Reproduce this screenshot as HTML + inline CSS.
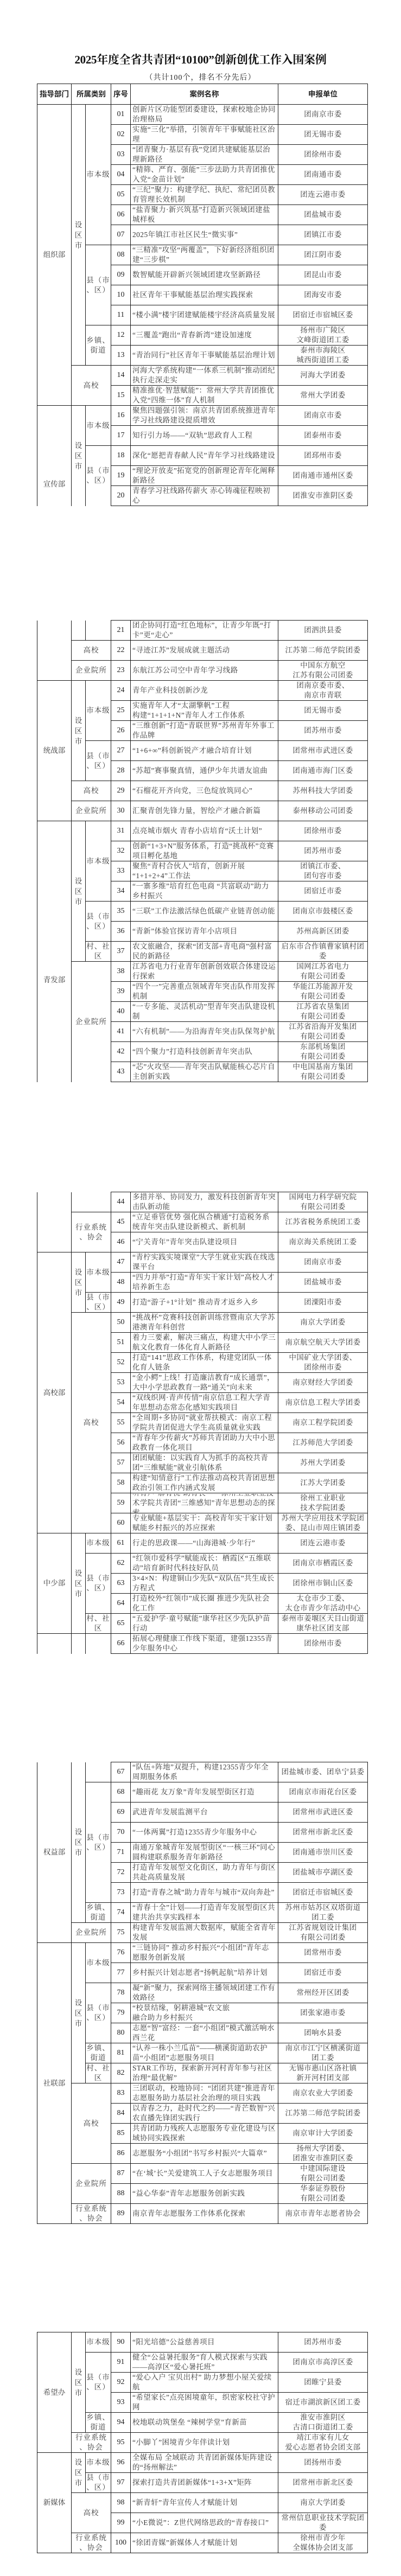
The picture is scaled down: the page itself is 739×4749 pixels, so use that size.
<!DOCTYPE html>
<html><head><meta charset="utf-8">
<style>
html,body{margin:0;padding:0;background:#fff}
body{width:739px;height:4749px;position:relative;overflow:hidden;font-family:"Liberation Serif","Noto Serif CJK SC",serif;color:#3a3a3a}
.title{position:absolute;top:94px;left:0;width:739px;text-align:center;font-size:21px;font-weight:bold;color:#111;font-family:"Liberation Serif","Noto Serif CJK SC",serif;letter-spacing:-0.3px}
.sub{position:absolute;top:132px;left:0;width:739px;text-align:center;font-size:14px;letter-spacing:1px;color:#222}
table{position:absolute;left:68px;width:609px;border-collapse:collapse;table-layout:fixed}
td{border:1.5px solid #1a1a1a;padding:0;font-size:13.5px;text-align:center;vertical-align:middle;line-height:18px;overflow:hidden}
tr{height:37px}
tr.h{height:38px}
tr.h td{font-family:"Liberation Sans","Noto Sans CJK SC",sans-serif;font-weight:bold;color:#222;font-size:13.5px}
td.x{font-size:14px;color:#222}
td.n div{height:35px;overflow:hidden;display:flex;align-items:center;text-align:left;padding:0 3px;letter-spacing:0.4px}
td.u div{height:35px;overflow:hidden;display:flex;align-items:center;justify-content:center;text-align:center;padding:0 2px;letter-spacing:0.4px}
td.v{line-height:19px}
td.s{letter-spacing:1px}
.ot{border-top:none}
.ob{border-bottom:none}
</style></head><body>
<div class="title">2025年度全省共青团“10100”创新创优工作入围案例</div>
<div class="sub">（共计100个，排名不分先后）</div>

<!-- PAGE 1 -->
<table style="top:154px">
<colgroup><col style="width:63px"><col style="width:26px"><col style="width:47px"><col style="width:36px"><col style="width:272px"><col style="width:165px"></colgroup>
<tr class="h"><td>指导部门</td><td colspan="2">所属类别</td><td>序号</td><td>案例名称</td><td>申报单位</td></tr>
<tr><td rowspan="15">组织部</td><td rowspan="13" class="v">设<br>区<br>市</td><td rowspan="7" class="s">市本级</td><td class="x">01</td><td class="n"><div>创新片区功能型团委建设，探索校地企协同治理格局</div></td><td class="u"><div>团南京市委</div></td></tr>
<tr><td class="x">02</td><td class="n"><div>实施“三化”举措，引领青年干事赋能社区治理</div></td><td class="u"><div>团无锡市委</div></td></tr>
<tr><td class="x">03</td><td class="n"><div>“团青聚力·基层有我”党团共建赋能基层治理新路径</div></td><td class="u"><div>团徐州市委</div></td></tr>
<tr><td class="x">04</td><td class="n"><div>“精筛、严育、强能”三步法助力共青团推优入党“金苗计划”</div></td><td class="u"><div>团南通市委</div></td></tr>
<tr><td class="x">05</td><td class="n"><div>“三纪”聚力：构建学纪、执纪、常纪团员教育管理长效机制</div></td><td class="u"><div>团连云港市委</div></td></tr>
<tr><td class="x">06</td><td class="n"><div>“盐青聚力·新兴筑基”打造新兴领域团建盐城样板</div></td><td class="u"><div>团盐城市委</div></td></tr>
<tr><td class="x">07</td><td class="n"><div>2025年镇江市社区民生“微实事”</div></td><td class="u"><div>团镇江市委</div></td></tr>
<tr><td rowspan="4" class="s">县（市<br>、区）</td><td class="x">08</td><td class="n"><div>“三精准”攻坚“两覆盖”，下好新经济组织团建“三步棋”</div></td><td class="u"><div>团江阴市委</div></td></tr>
<tr><td class="x">09</td><td class="n"><div>数智赋能开辟新兴领域团建攻坚新路径</div></td><td class="u"><div>团昆山市委</div></td></tr>
<tr><td class="x">10</td><td class="n"><div>社区青年干事赋能基层治理实践探索</div></td><td class="u"><div>团海安市委</div></td></tr>
<tr><td class="x">11</td><td class="n"><div>“楼小满”楼宇团建赋能楼宇经济高质量发展</div></td><td class="u"><div>团宿迁市宿城区委</div></td></tr>
<tr><td rowspan="2" class="s">乡镇、<br>街道</td><td class="x">12</td><td class="n"><div>“三覆盖”跑出“青春新湾”建设加速度</div></td><td class="u"><div>扬州市广陵区<br>文峰街道团工委</div></td></tr>
<tr><td class="x">13</td><td class="n"><div>“青治同行”社区青年干事赋能基层治理计划</div></td><td class="u"><div>泰州市海陵区<br>城西街道团工委</div></td></tr>
<tr><td rowspan="2" colspan="2" class="s">高校</td><td class="x">14</td><td class="n"><div>河海大学系统构建“一体系三机制”推动团纪执行走深走实</div></td><td class="u"><div>河海大学团委</div></td></tr>
<tr><td class="x">15</td><td class="n"><div>精准推优·智慧赋能”：常州大学共青团推优入党“四维一体”育人机制</div></td><td class="u"><div>常州大学团委</div></td></tr>
<tr><td rowspan="5" class="ob" style="vertical-align:top;padding-top:136px">宣传部</td><td rowspan="5" class="v ob">设<br>区<br>市</td><td rowspan="2" class="s">市本级</td><td class="x">16</td><td class="n"><div>聚焦四题强引领：南京共青团系统推进青年学习社线路建设提质增效</div></td><td class="u"><div>团南京市委</div></td></tr>
<tr><td class="x">17</td><td class="n"><div>知行引力场——“双轨”思政育人工程</div></td><td class="u"><div>团泰州市委</div></td></tr>
<tr><td rowspan="3" class="s ob">县（市<br>、区）</td><td class="x">18</td><td class="n"><div>深化“愿把青春献人民”青年学习社线路建设</div></td><td class="u"><div>团邳州市委</div></td></tr>
<tr><td class="x">19</td><td class="n"><div>“理论开放麦”拓宽党的创新理论青年化阐释新路径</div></td><td class="u"><div>团南通市通州区委</div></td></tr>
<tr><td class="x">20</td><td class="n"><div>青春学习社线路传薪火 赤心铸魂征程映初心</div></td><td class="u"><div>团淮安市淮阴区委</div></td></tr>
</table>

<!-- PAGE 2 -->
<table style="top:1143px">
<colgroup><col style="width:63px"><col style="width:26px"><col style="width:47px"><col style="width:36px"><col style="width:272px"><col style="width:165px"></colgroup>
<tr><td rowspan="3" class="ot"></td><td class="ot"></td><td class="ot"></td><td class="x">21</td><td class="n"><div>团企协同打造“红色地标”，让青少年既“打卡”更“走心”</div></td><td class="u"><div>团泗洪县委</div></td></tr>
<tr><td colspan="2" class="s">高校</td><td class="x">22</td><td class="n"><div>“寻迹江苏”发展成就主题活动</div></td><td class="u"><div>江苏第二师范学院团委</div></td></tr>
<tr><td colspan="2" class="s">企业院所</td><td class="x">23</td><td class="n"><div>东航江苏公司空中青年学习线路</div></td><td class="u"><div>中国东方航空<br>江苏有限公司团委</div></td></tr>
<tr><td rowspan="7">统战部</td><td rowspan="5" class="v">设<br>区<br>市</td><td rowspan="3" class="s">市本级</td><td class="x">24</td><td class="n"><div>青年产业科技创新沙龙</div></td><td class="u"><div>团南京委市委、<br>南京市青联</div></td></tr>
<tr><td class="x">25</td><td class="n"><div>实施青年人才“太湖擎帆”工程<br>构建“1+1+1+N”青年人才工作体系</div></td><td class="u"><div>团无锡市委</div></td></tr>
<tr><td class="x">26</td><td class="n"><div>“三维创新”打造“青联世界”苏州青年外事工作品牌</div></td><td class="u"><div>团苏州市委</div></td></tr>
<tr><td rowspan="2" class="s">县（市<br>、区）</td><td class="x">27</td><td class="n"><div>“1+6+∞”科创新锐产才融合培育计划</div></td><td class="u"><div>团常州市武进区委</div></td></tr>
<tr><td class="x">28</td><td class="n"><div>“苏超”赛事聚真情，通伊少年共谱友谊曲</div></td><td class="u"><div>团南通市海门区委</div></td></tr>
<tr><td colspan="2" class="s">高校</td><td class="x">29</td><td class="n"><div>“石榴花开齐向党，三色绽放筑同心”</div></td><td class="u"><div>苏州科技大学团委</div></td></tr>
<tr><td colspan="2" class="s">企业院所</td><td class="x">30</td><td class="n"><div>汇聚青创先锋力量，智绘产才融合新篇</div></td><td class="u"><div>泰州移动公司团委</div></td></tr>
<tr><td rowspan="13" class="ob" style="vertical-align:top;padding-top:284px">青发部</td><td rowspan="7" class="v">设<br>区<br>市</td><td rowspan="4" class="s">市本级</td><td class="x">31</td><td class="n"><div>点亮城市烟火 青春小店培育“沃土计划”</div></td><td class="u"><div>团徐州市委</div></td></tr>
<tr><td class="x">32</td><td class="n"><div>创新“1+3+N”服务体系，打造“挑战杯”竞赛项目孵化基地</div></td><td class="u"><div>团苏州市委</div></td></tr>
<tr><td class="x">33</td><td class="n"><div>聚焦“青村合伙人”培育，创新开展<br>“1+1+2+4”工作法</div></td><td class="u"><div>团镇江市委、<br>团句容市委</div></td></tr>
<tr><td class="x">34</td><td class="n"><div>“一寨多维”培育红色电商 “共富联动”助力乡村振兴</div></td><td class="u"><div>团宿迁市委</div></td></tr>
<tr><td rowspan="2" class="s">县（市<br>、区）</td><td class="x">35</td><td class="n"><div>“三联”工作法激活绿色低碳产业链青创动能</div></td><td class="u"><div>团南京市鼓楼区委</div></td></tr>
<tr><td class="x">36</td><td class="n"><div>“青新”体验官探访青年小店项目</div></td><td class="u"><div>苏州高新区团委</div></td></tr>
<tr><td class="s">村、社<br>区</td><td class="x">37</td><td class="n"><div>农文旅融合，探索“团支部+青电商”强村富民的新路径</div></td><td class="u"><div>启东市合作镇曹家镇村团委</div></td></tr>
<tr><td rowspan="6" colspan="2" class="s ob">企业院所</td><td class="x">38</td><td class="n"><div>江苏省电力行业青年创新创效联合体建设运行探索</div></td><td class="u"><div>国网江苏省电力<br>有限公司团委</div></td></tr>
<tr><td class="x">39</td><td class="n"><div>“四个一”完善重点领域青年突击队作用发挥机制</div></td><td class="u"><div>华能江苏能源开发<br>有限公司团委</div></td></tr>
<tr><td class="x">40</td><td class="n"><div>“一专多能、灵活机动”型青年突击队建设机制</div></td><td class="u"><div>江苏省农垦集团<br>有限公司团委</div></td></tr>
<tr><td class="x">41</td><td class="n"><div>“六有机制”——为沿海青年突击队保驾护航</div></td><td class="u"><div>江苏省沿海开发集团<br>有限公司团委</div></td></tr>
<tr><td class="x">42</td><td class="n"><div>“四个聚力”打造科技创新青年突击队</div></td><td class="u"><div>东部机场集团<br>有限公司团委</div></td></tr>
<tr><td class="x">43</td><td class="n"><div>“芯”火攻坚——青年突击队赋能核心芯片自主创新实践</div></td><td class="u"><div>中电国基南方集团<br>有限公司团委</div></td></tr>
</table>

<!-- PAGE 3 -->
<table style="top:2197px">
<colgroup><col style="width:63px"><col style="width:26px"><col style="width:47px"><col style="width:36px"><col style="width:272px"><col style="width:165px"></colgroup>
<tr><td rowspan="3" class="ot"></td><td colspan="2" class="ot"></td><td class="x">44</td><td class="n"><div>多措并举、协同发力，激发科技创新青年突击队新动能</div></td><td class="u"><div>国网电力科学研究院<br>有限公司团委</div></td></tr>
<tr><td rowspan="2" colspan="2" class="s">行业系统<br>、协会</td><td class="x">45</td><td class="n"><div>“立足垂管优势 强化纵合横通”打造税务系统青年突击队建设新模式、新机制</div></td><td class="u"><div>江苏省税务系统团工委</div></td></tr>
<tr><td class="x">46</td><td class="n"><div>“宁关青年”青年突击队建设项目</div></td><td class="u"><div>南京海关系统团工委</div></td></tr>
<tr><td rowspan="14">高校部</td><td rowspan="3" class="v">设<br>区<br>市</td><td rowspan="2" class="s">市本级</td><td class="x">47</td><td class="n"><div>“青柠实践实境课堂”大学生就业实践在线选课平台</div></td><td class="u"><div>团南京市委</div></td></tr>
<tr><td class="x">48</td><td class="n"><div>“四力并举”打造“青年实干家计划”高校人才培养新生态</div></td><td class="u"><div>团盐城市委</div></td></tr>
<tr><td class="s">县（市<br>、区）</td><td class="x">49</td><td class="n"><div>打造“游子+1°计划” 推动青才返乡入乡</div></td><td class="u"><div>团溧阳市委</div></td></tr>
<tr><td rowspan="11" colspan="2" class="s">高校</td><td class="x">50</td><td class="n"><div>“挑战杯”竞赛科技创新训练营暨南京大学苏港澳青年科创营</div></td><td class="u"><div>南京大学团委</div></td></tr>
<tr><td class="x">51</td><td class="n"><div>着力三要素，解决三痛点，构建大中小学三航文化教育一体化育人新路径</div></td><td class="u"><div>南京航空航天大学团委</div></td></tr>
<tr><td class="x">52</td><td class="n"><div>打造“141”思政工作体系，构建党团队一体化育人链条</div></td><td class="u"><div>中国矿业大学团委、<br>团徐州市委</div></td></tr>
<tr><td class="x">53</td><td class="n"><div>“金小鳄”上线！打造廉洁教育“成长通票”，大中小学思政教育一路“通关”向未来</div></td><td class="u"><div>南京财经大学团委</div></td></tr>
<tr><td class="x">54</td><td class="n"><div>“双线织网·青声传情”南京信息工程大学青年思想动态常态化感知实践项目</div></td><td class="u"><div>南京信息工程大学团委</div></td></tr>
<tr><td class="x">55</td><td class="n"><div>“全周期+多协同”就业帮扶模式：南京工程学院共青团促进大学生高质量就业实践</div></td><td class="u"><div>南京工程学院团委</div></td></tr>
<tr><td class="x">56</td><td class="n"><div>“青春年少传薪火”苏师共青团助力大中小思政教育一体化项目</div></td><td class="u"><div>江苏师范大学团委</div></td></tr>
<tr><td class="x">57</td><td class="n"><div>团团赋能：以实践育人为抓手的高校共青团“三维赋能”就业引航体系</div></td><td class="u"><div>苏州大学团委</div></td></tr>
<tr><td class="x">58</td><td class="n"><div>构建“知情意行”工作法推动高校共青团思想政治引领工作内涵式发展</div></td><td class="u"><div>江苏大学团委</div></td></tr>
<tr><td class="x">59</td><td class="n"><div>听青声•解青忧•助青长——徐州工业职业技术学院共青团“三维感知”青年思想动态的探索</div></td><td class="u"><div>徐州工业职业<br>技术学院团委</div></td></tr>
<tr><td class="x">60</td><td class="n"><div>专业赋能+基层实干：高校青年实干家计划赋能乡村振兴的苏应探索</div></td><td class="u"><div>苏州大学应用技术学院团委、昆山市周庄镇团委</div></td></tr>
<tr><td rowspan="5">中少部</td><td rowspan="5" class="v">设<br>区<br>市</td><td class="s">市本级</td><td class="x">61</td><td class="n"><div>行走的思政课——“山海港城·少年行”</div></td><td class="u"><div>团连云港市委</div></td></tr>
<tr><td rowspan="3" class="s">县（市<br>、区）</td><td class="x">62</td><td class="n"><div>“红领巾爱科学”赋能成长：栖霞区“五维联动”培育新时代科技好队员</div></td><td class="u"><div>团南京市栖霞区委</div></td></tr>
<tr><td class="x">63</td><td class="n"><div>3×4×N：构建铜山少先队“双队伍”共生成长方程式</div></td><td class="u"><div>团徐州市铜山区委</div></td></tr>
<tr><td class="x">64</td><td class="n"><div>打造校外“红领巾”成长圈 推进少先队社会化工作</div></td><td class="u"><div>太仓市少工委、<br>太仓市青少年活动中心</div></td></tr>
<tr><td class="s">村、社<br>区</td><td class="x">65</td><td class="n"><div>“五爱护学·童号赋能”康华社区少先队护苗行动</div></td><td class="u"><div>泰州市姜堰区天目山街道<br>康华社区团支部</div></td></tr>
<tr><td class="ob"></td><td class="ob"></td><td class="ob"></td><td class="x">66</td><td class="n"><div>拓展心理健康工作线下渠道，建强12355青少年服务中心</div></td><td class="u"><div>团徐州市委</div></td></tr>
</table>

<!-- PAGE 4 -->
<table style="top:3248px">
<colgroup><col style="width:63px"><col style="width:26px"><col style="width:47px"><col style="width:36px"><col style="width:272px"><col style="width:165px"></colgroup>
<tr><td rowspan="9" class="ot">权益部</td><td rowspan="8" class="v ot">设<br>区<br>市</td><td class="ot"></td><td class="x">67</td><td class="n"><div>“队伍+阵地”双提升，构建12355青少年全周期服务体系</div></td><td class="u"><div>团盐城市委、团阜宁县委</div></td></tr>
<tr><td rowspan="6" class="s">县（市<br>、区）</td><td class="x">68</td><td class="n"><div>“趣雨花 友万象”青年发展型街区打造</div></td><td class="u"><div>团南京市雨花台区委</div></td></tr>
<tr><td class="x">69</td><td class="n"><div>武进青年发展监测平台</div></td><td class="u"><div>团常州市武进区委</div></td></tr>
<tr><td class="x">70</td><td class="n"><div>“一体两翼”打造12355青少年服务中心</div></td><td class="u"><div>团常州市新北区委</div></td></tr>
<tr><td class="x">71</td><td class="n"><div>南通万象城青年发展型街区“一核三环”同心圆构建联系服务青年新路径</div></td><td class="u"><div>团南通市崇川区委</div></td></tr>
<tr><td class="x">72</td><td class="n"><div>打造青年发展型文化街区，助力青年与街区共赴高质量发展</div></td><td class="u"><div>团盐城市亭湖区委</div></td></tr>
<tr><td class="x">73</td><td class="n"><div>打造“青春之城”助力青年与城市“双向奔赴”</div></td><td class="u"><div>团宿迁市宿城区委</div></td></tr>
<tr><td class="s">乡镇、<br>街道</td><td class="x">74</td><td class="n"><div>“青春十全”计划——打造青年发展型街区共建共治共享实践样本</div></td><td class="u"><div>苏州市姑苏区双塔街道<br>团工委</div></td></tr>
<tr><td colspan="2" class="s">企业院所</td><td class="x">75</td><td class="n"><div>构建青年发展监测大数据库，赋能全省青年发展</div></td><td class="u"><div>江苏省规划设计集团<br>有限公司团委</div></td></tr>
<tr><td rowspan="14">社联部</td><td rowspan="7" class="v">设<br>区<br>市</td><td rowspan="2" class="s">市本级</td><td class="x">76</td><td class="n"><div>“三链协同” 推动乡村振兴“小组团”青年志愿服务创新发展</div></td><td class="u"><div>团常州市委</div></td></tr>
<tr><td class="x">77</td><td class="n"><div>乡村振兴计划志愿者“扬帆起航”培养计划</div></td><td class="u"><div>团宿迁市委</div></td></tr>
<tr><td rowspan="3" class="s">县（市<br>、区）</td><td class="x">78</td><td class="n"><div>凝“新”聚力，探索网络主播领域团建工作有效路径</div></td><td class="u"><div>常州经开区团委</div></td></tr>
<tr><td class="x">79</td><td class="n"><div>“校景结缘，躬耕港城”农文旅<br>融合助力乡村振兴</div></td><td class="u"><div>团张家港市委</div></td></tr>
<tr><td class="x">80</td><td class="n"><div>志愿“智”富经：一套“小组团”模式激活响水西兰花</div></td><td class="u"><div>团响水县委</div></td></tr>
<tr><td class="s">乡镇、<br>街道</td><td class="x">81</td><td class="n"><div>“认养一株小兰瓜苗”——横溪街道助农护苗“小组团”志愿服务项目</div></td><td class="u"><div>南京市江宁区横溪街道<br>团工委</div></td></tr>
<tr><td class="s">村、社<br>区</td><td class="x">82</td><td class="n"><div>STAR工作坊，探索新开河村青年参与社区治理“最优解”</div></td><td class="u"><div>无锡市惠山区洛社镇<br>新开河村团支部</div></td></tr>
<tr><td rowspan="4" colspan="2" class="s">高校</td><td class="x">83</td><td class="n"><div>三团联动，校地协同：“团团共建”推进青年志愿服务助力基层社会治理的项目实践</div></td><td class="u"><div>南京农业大学团委</div></td></tr>
<tr><td class="x">84</td><td class="n"><div>以青春之力，赴时代之约——“青芒数智”兴农直播先锋团实践行</div></td><td class="u"><div>江苏第二师范学院团委</div></td></tr>
<tr><td class="x">85</td><td class="n"><div>共青团助力残疾人志愿服务专业化建设与区域协同实践探索</div></td><td class="u"><div>南京审计大学团委</div></td></tr>
<tr><td class="x">86</td><td class="n"><div>志愿服务“小组团”书写乡村振兴“大篇章”</div></td><td class="u"><div>扬州大学团委、<br>团淮安市淮阴区委</div></td></tr>
<tr><td rowspan="2" colspan="2" class="s">企业院所</td><td class="x">87</td><td class="n"><div>“在‘城’长”关爱建筑工人子女志愿服务项目</div></td><td class="u"><div>中建国际建设<br>有限公司团委</div></td></tr>
<tr><td class="x">88</td><td class="n"><div>“益心华泰”青年志愿服务创新实践</div></td><td class="u"><div>华泰证券股份<br>有限公司团委</div></td></tr>
<tr><td colspan="2" class="s">行业系统<br>、协会</td><td class="x">89</td><td class="n"><div>南京青年志愿服务工作体系化探索</div></td><td class="u"><div>南京市青年志愿者协会</div></td></tr>
</table>

<!-- PAGE 5 -->
<table style="top:4299px">
<colgroup><col style="width:63px"><col style="width:26px"><col style="width:47px"><col style="width:36px"><col style="width:272px"><col style="width:165px"></colgroup>
<tr><td rowspan="6">希望办</td><td rowspan="5" class="v">设<br>区<br>市</td><td class="s">市本级</td><td class="x">90</td><td class="n"><div>“阳光培德”公益慈善项目</div></td><td class="u"><div>团苏州市委</div></td></tr>
<tr><td rowspan="3" class="s">县（市<br>、区）</td><td class="x">91</td><td class="n"><div>健全“公益暑托服务”育人模式探索与实践<br>——高淳区“爱心暑托班”</div></td><td class="u"><div>团南京市高淳区委</div></td></tr>
<tr><td class="x">92</td><td class="n"><div>“爱心入户 宝贝出村” 助力梦想小屋关爱续航</div></td><td class="u"><div>团睢宁县委</div></td></tr>
<tr><td class="x">93</td><td class="n"><div>“希望家长”点亮困境童年，织密家校社守护网</div></td><td class="u"><div>宿迁市湖滨新区团工委</div></td></tr>
<tr><td class="s">乡镇、<br>街道</td><td class="x">94</td><td class="n"><div>校地联动筑堡垒 “辣树学堂”育新苗</div></td><td class="u"><div>淮安市淮阴区<br>古清口街道团工委</div></td></tr>
<tr><td colspan="2" class="s">行业系统<br>、协会</td><td class="x">95</td><td class="n"><div>“小脚丫”困境青少年伴读计划</div></td><td class="u"><div>靖江市家有儿女<br>爱心志愿者协会团支部</div></td></tr>
<tr><td rowspan="5">新媒体</td><td rowspan="2" class="v">设<br>区<br>市</td><td class="s">市本级</td><td class="x">96</td><td class="n"><div>全媒布局 全域联动 共青团新媒体矩阵建设的“扬州解法”</div></td><td class="u"><div>团扬州市委</div></td></tr>
<tr><td class="s">县（市<br>、区）</td><td class="x">97</td><td class="n"><div>探索打造共青团新媒体“1+3+X”矩阵</div></td><td class="u"><div>团常州市新北区委</div></td></tr>
<tr><td rowspan="2" colspan="2" class="s">高校</td><td class="x">98</td><td class="n"><div>“新青轩”青年宣传人才赋能计划</div></td><td class="u"><div>南京大学团委</div></td></tr>
<tr><td class="x">99</td><td class="n"><div>“小E微说”：Z世代网络思政的“青春接口”</div></td><td class="u"><div>常州信息职业技术学院团委</div></td></tr>
<tr><td colspan="2" class="s">行业系统<br>、协会</td><td class="x">100</td><td class="n"><div>“徐团青媒”新媒体人才赋能计划</div></td><td class="u"><div>徐州市青少年<br>全媒体协会团支部</div></td></tr>
</table>
</body></html>
